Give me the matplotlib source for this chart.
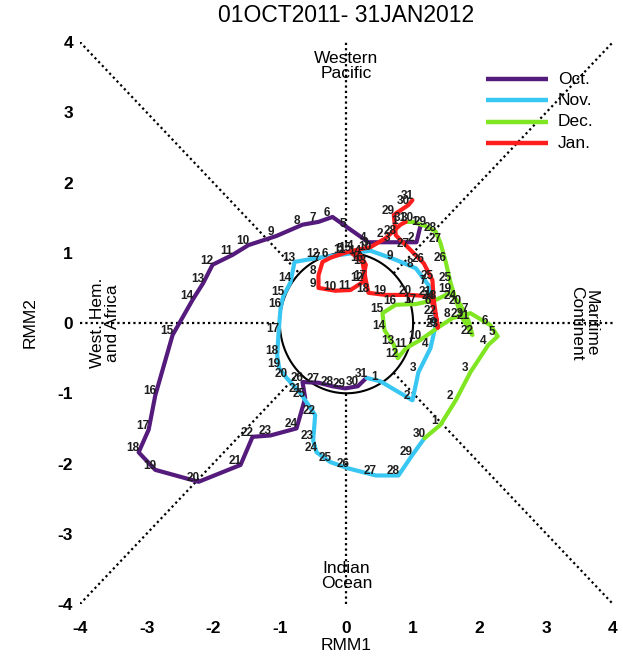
import matplotlib
matplotlib.use('Agg')
import matplotlib.pyplot as plt
import numpy as np

plt.rcParams['font.family'] = ['Liberation Sans', 'DejaVu Sans']

# RMM1 / RMM2 daily values, 01 Oct 2011 - 31 Jan 2012
oct_rmm1 = [1.11, 1.05, 0.69, 0.33, 0.03, -0.21, -0.42, -0.66, -1.05, -1.47,
            -1.71, -2.01, -2.15, -2.31, -2.61, -2.87, -2.97, -3.12, -2.87, -2.22,
            -1.59, -1.41, -1.14, -0.75, -0.62, -0.66, -0.42, -0.21, -0.02, 0.17, 0.30]
oct_rmm2 = [1.38, 1.15, 1.15, 1.15, 1.35, 1.51, 1.44, 1.40, 1.24, 1.11,
            0.97, 0.83, 0.57, 0.33, -0.17, -1.03, -1.52, -1.84, -2.09, -2.26,
            -2.02, -1.62, -1.60, -1.50, -1.07, -0.84, -0.85, -0.90, -0.93, -0.90, -0.78]

nov_rmm1 = [0.51, 0.99, 1.08, 1.26, 1.34, 1.31, 1.23, 1.04, 0.74, 0.36,
            -0.02, -0.42, -0.78, -0.84, -0.95, -0.99, -1.02, -1.04, -1.01, -0.90,
            -0.69, -0.47, -0.50, -0.45, -0.24, 0.03, 0.44, 0.78, 0.98, 1.17]
nov_rmm2 = [-0.83, -1.10, -0.70, -0.36, -0.03, 0.26, 0.54, 0.78, 0.90, 1.03,
            0.98, 0.93, 0.87, 0.58, 0.38, 0.21, -0.14, -0.46, -0.64, -0.78,
            -1.00, -1.31, -1.67, -1.84, -1.98, -2.07, -2.17, -2.17, -1.89, -1.64]

dec_rmm1 = [1.41, 1.64, 1.86, 2.13, 2.27, 2.16, 1.86, 1.59, 1.38, 1.11,
            0.89, 0.77, 0.71, 0.57, 0.54, 0.74, 1.04, 1.34, 1.56, 1.71,
            1.83, 1.89, 1.74, 1.64, 1.56, 1.49, 1.41, 1.34, 1.19, 0.99, 0.89]
dec_rmm2 = [-1.45, -1.10, -0.70, -0.31, -0.19, -0.03, 0.14, 0.07, -0.06, -0.24,
            -0.36, -0.50, -0.31, -0.10, 0.14, 0.26, 0.27, 0.33, 0.43, 0.26,
            0.04, -0.17, 0.07, 0.33, 0.58, 0.87, 1.14, 1.30, 1.38, 1.44, 1.44]

jan_rmm1 = [0.81, 0.59, 0.36, 0.14, -0.02, -0.24, -0.36, -0.42, -0.42, -0.17,
            0.06, 0.24, 0.29, 0.21, 0.06, 0.24, 0.29, 0.33, 0.59, 0.96,
            1.26, 1.34, 1.37, 1.31, 1.29, 1.16, 0.93, 0.74, 0.71, 0.93, 0.99]
jan_rmm2 = [1.40, 1.21, 1.08, 1.04, 1.00, 0.93, 0.87, 0.68, 0.50, 0.46,
            0.47, 0.58, 0.83, 0.97, 1.01, 0.87, 0.61, 0.43, 0.40, 0.40,
            0.38, 0.11, -0.07, 0.33, 0.61, 0.85, 1.07, 1.25, 1.54, 1.68, 1.75]

month_names = ['Oct.', 'Nov.', 'Dec.', 'Jan.']
month_colors = ['#541b7c', '#38c6f2', '#80e622', '#ff1e1e']
series = [(oct_rmm1, oct_rmm2), (nov_rmm1, nov_rmm2),
          (dec_rmm1, dec_rmm2), (jan_rmm1, jan_rmm2)]

ticks = [-4, -3, -2, -1, 0, 1, 2, 3, 4]
title = '01OCT2011- 31JAN2012'

fig = plt.figure(figsize=(6.23, 6.6), dpi=100)
ax = fig.add_axes([0.1284, 0.0848, 0.8555, 0.8515])
ax.set_xlim(-4, 4)
ax.set_ylim(-4, 4)
for s in ax.spines.values():
    s.set_visible(False)
ax.set_xticks(ticks)
ax.set_yticks(ticks)
ax.set_xticklabels([str(t) for t in ticks])
ax.set_yticklabels([str(t) for t in ticks])
ax.tick_params(length=0, labelsize=12.5)
ax.tick_params(axis='x', pad=12)
ax.tick_params(axis='y', pad=5)
for lab in ax.get_xticklabels() + ax.get_yticklabels():
    lab.set_fontweight('bold')

# phase-space guide lines (dotted) outside the unit circle
dot = dict(color='black', lw=1.6, linestyle=(0, (1, 1.4)), zorder=1)
d = np.sqrt(0.5)
ax.plot([-4, -1], [0, 0], **dot)
ax.plot([1, 4], [0, 0], **dot)
ax.plot([0, 0], [1, 4], **dot)
ax.plot([0, 0], [-4, -1], **dot)
ax.plot([-4, -d], [4, d], **dot)
ax.plot([d, 4], [-d, -4], **dot)
ax.plot([-4, -d], [-4, -d], **dot)
ax.plot([d, 4], [d, 4], **dot)

theta = np.linspace(0, 2 * np.pi, 300)
ax.plot(np.cos(theta), np.sin(theta), color='black', lw=1.5, zorder=2)

# trajectories, each month joined to the last day of the previous one
prev = None
for (x, y), c in zip(series, month_colors):
    xs = list(x)
    ys = list(y)
    if prev is not None:
        xs = [prev[0]] + xs
        ys = [prev[1]] + ys
    ax.plot(xs, ys, color=c, lw=3.0, solid_joinstyle='round',
            solid_capstyle='round', zorder=3)
    prev = (x[-1], y[-1])

for x, y in series:
    for i, (xv, yv) in enumerate(zip(x, y)):
        ax.annotate(str(i + 1), (xv, yv), xytext=(-4, 3),
                    textcoords='offset points', ha='center', va='center',
                    fontsize=8.5, fontweight='bold', color='#1e1e1e', zorder=5)

# phase region names
ax.text(0, 3.66, 'Western\nPacific', ha='center', va='center', fontsize=12.5,
        linespacing=1.0, zorder=4)
ax.text(0, -3.60, 'Indian\nOcean', ha='center', va='center', fontsize=12.5,
        linespacing=1.0, zorder=4)
ax.text(-3.62, 0, 'West. Hem.\nand Africa', ha='center', va='center',
        rotation=90, fontsize=12.5, linespacing=1.0, zorder=4)
ax.text(3.56, 0, 'Maritime\nContinent', ha='center', va='center',
        rotation=270, fontsize=12.5, linespacing=1.0, zorder=4)

# legend
ly = [0.934, 0.896, 0.858, 0.820]
for name, c, yy in zip(month_names, month_colors, ly):
    ax.plot([0.762, 0.878], [yy, yy], color=c, lw=3.2, transform=ax.transAxes,
            solid_capstyle='butt', zorder=6)
    ax.text(0.897, yy, name, transform=ax.transAxes, ha='left', va='center',
            fontsize=12.5, zorder=6)

fig.text(0.5557, 0.977, title, ha='center', va='center', fontsize=16.5)
fig.text(0.5557, 0.022, 'RMM1', ha='center', va='center', fontsize=12.5)
fig.text(0.048, 0.511, 'RMM2', ha='center', va='center', fontsize=12.5,
         rotation=90)

fig.savefig('out.png', dpi=100)
